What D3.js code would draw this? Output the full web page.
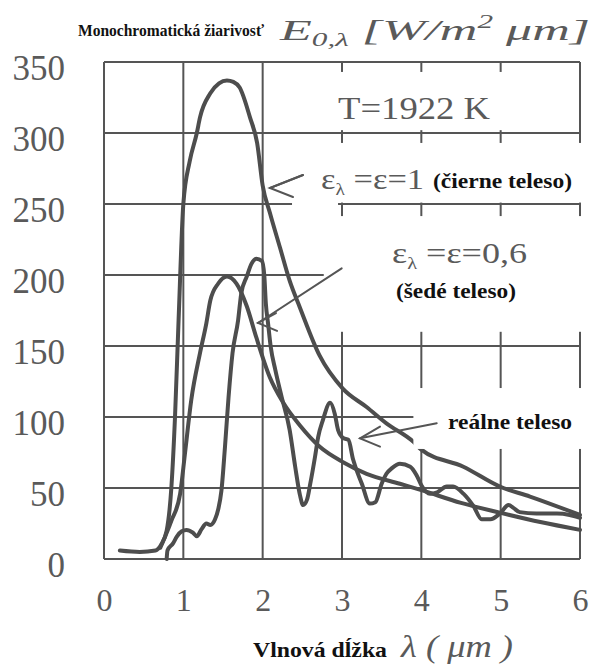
<!DOCTYPE html>
<html>
<head>
<meta charset="utf-8">
<script src="https://cdn.jsdelivr.net/npm/d3@7"></script>
<style>
  body { margin: 0; background: #fff; }
  svg { display: block; font-family: "Liberation Serif", "Times New Roman", serif; }
  .grid line { stroke: #555; stroke-width: 2; }
  .curve { fill: none; stroke: #4d4d4d; stroke-width: 4; stroke-linejoin: round; stroke-linecap: round; }
  .arrow { fill: none; stroke: #555; stroke-width: 2; stroke-linecap: round; }
  .note { fill: #5a5a5a; }
  .bold { font-weight: bold; fill: #111; }
  .axis text { fill: #5a5a5a; }
</style>
</head>
<body>
<div class="chart"></div>
<script>
// Values: wavelength (um) and E (W/m2 um, /1000)
var blackLambda = [0.20, 0.45, 0.65, 0.72, 0.79, 0.85, 0.895, 0.94, 1.00, 1.08, 1.17, 1.21, 1.34, 1.45, 1.55, 1.63, 1.71, 1.84, 1.93, 2.00, 2.09, 2.22, 2.34, 2.47, 2.72, 3.01, 3.31, 3.56, 3.90, 4.00, 4.53, 4.99, 5.37, 6.00];
var blackE = [6, 5, 6, 10, 20, 51, 100, 168, 250, 280, 300, 311, 328, 335, 337, 336, 332, 311, 293, 263, 244, 219, 196, 177, 143, 120, 107, 95.5, 82.5, 77, 65, 51, 44, 31];

var greyLambda = [0.71, 0.85, 0.96, 1.02, 1.10, 1.21, 1.29, 1.34, 1.44, 1.55, 1.67, 1.80, 1.92, 2.09, 2.26, 2.47, 2.72, 3.02, 3.31, 3.73, 4.00, 4.50, 5.00, 5.50, 6.00];
var greyE = [8, 27, 46, 74, 112, 145, 166, 182, 194, 199, 194, 178, 156, 128, 110, 94, 79, 68, 60, 53, 48.5, 39.5, 32.5, 26, 20.5];

var realLambda = [0.79, 0.80, 0.87, 0.92, 0.98, 1.04, 1.12, 1.17, 1.23, 1.29, 1.34, 1.40, 1.44, 1.48, 1.525, 1.57, 1.62, 1.69, 1.73, 1.80, 1.86, 1.92, 1.99, 2.02, 2.04, 2.07, 2.10, 2.16, 2.24, 2.34, 2.41, 2.47, 2.51, 2.56, 2.60, 2.66, 2.70, 2.76, 2.85, 2.91, 2.95, 3.02, 3.08, 3.14, 3.25, 3.35, 3.42, 3.50, 3.56, 3.63, 3.73, 3.86, 3.94, 4.00, 4.11, 4.20, 4.32, 4.40, 4.53, 4.66, 4.76, 4.87, 4.99, 5.10, 5.16, 5.24, 5.45, 5.71, 5.87, 6.00];
var realE = [0, 6, 11, 16, 19.5, 20.5, 18.5, 16, 21, 25, 24, 28, 35, 48, 79, 114, 145, 168, 187, 199, 208, 211.5, 210, 200, 180, 165, 150, 133, 114, 91, 65, 45, 38, 42, 53, 72, 86, 98, 110, 102, 91, 85, 84, 70, 53, 39, 40, 53, 60, 64, 67, 65, 59, 52, 46, 47, 51, 51, 46, 37, 28, 28, 32, 38, 36, 33, 32, 32, 31, 29];

var xTicks = [0, 1, 2, 3, 4, 5, 6];
var yTicks = [0, 50, 100, 150, 200, 250, 300, 350];

var svgWidth = 596, svgHeight = 670;

var svg = d3.select(".chart")
    .append("svg")
    .attr("width", svgWidth)
    .attr("height", svgHeight);

var x = d3.scaleLinear().domain([0, 6]).range([104, 580]);
var y = d3.scaleLinear().domain([0, 350]).range([559, 62]);

// grid (frame included)
var grid = svg.append("g").attr("class", "grid");
grid.selectAll("line.v").data(xTicks).enter().append("line")
    .attr("class", "v")
    .attr("x1", function(d) { return x(d); })
    .attr("x2", function(d) { return x(d); })
    .attr("y1", y(0))
    .attr("y2", y(350));
grid.selectAll("line.h").data(yTicks).enter().append("line")
    .attr("class", "h")
    .attr("x1", x(0))
    .attr("x2", x(6))
    .attr("y1", function(d) { return y(d); })
    .attr("y2", function(d) { return y(d); });

// white patches behind the labels, in data units [l0, l1, e0, e1]
function patch(p) {
    svg.append("rect")
        .attr("x", x(p[0]))
        .attr("y", y(p[3]))
        .attr("width", x(p[1]) - x(p[0]))
        .attr("height", y(p[2]) - y(p[3]))
        .attr("fill", "#fff");
}
patch([2.77, 5.95, 302, 343]);
patch([2.77, 6.1, 251, 293]);
patch([2.37, 2.95, 245, 253.5]);
patch([2.77, 6.1, 160, 241.5]);

// axes labels
var leftAxis = d3.axisLeft(y).tickValues(yTicks).tickSize(0).tickPadding(39);
var bottomAxis = d3.axisBottom(x).tickValues(xTicks).tickFormat(d3.format("d")).tickSize(0).tickPadding(29);

var gy = svg.append("g").attr("class", "axis").attr("transform", "translate(" + x(0) + ",0)").call(leftAxis);
gy.select(".domain").remove();
gy.attr("font-family", null);
gy.selectAll("text").attr("dy", "0.5em").style("font-size", "35px");

var gx = svg.append("g").attr("class", "axis").attr("transform", "translate(0," + y(0) + ")").call(bottomAxis);
gx.select(".domain").remove();
gx.attr("font-family", null);
gx.selectAll("text").style("font-size", "32px");

// curves
var line = d3.line()
    .x(function(d) { return x(d[0]); })
    .y(function(d) { return y(d[1]); })
    .curve(d3.curveMonotoneX);

function pairs(a, b) { return a.map(function(v, i) { return [v, b[i]]; }); }

svg.append("path").attr("class", "curve").attr("d", line(pairs(blackLambda, blackE)));
svg.append("path").attr("class", "curve").attr("d", line(pairs(greyLambda, greyE)));
svg.append("path").attr("class", "curve").attr("d", line(pairs(realLambda, realE)));

// patch behind "reálne teleso" cuts the black curve too
patch([3.9, 6.1, 77.5, 120.4]);

// arrows
var arrowLine = d3.line()
    .x(function(d) { return x(d[0]); })
    .y(function(d) { return y(d[1]); });

function arrow(tail, tip, w1, w2) {
    svg.append("path").attr("class", "arrow").attr("d", arrowLine([tail, tip]));
    svg.append("path").attr("class", "arrow").attr("d", arrowLine([w1, tip, w2]));
}
arrow([2.508, 270.4], [2.092, 261.3], [2.508, 270.4], [2.382, 254.9]);
arrow([2.996, 204.7], [1.941, 166.2], [2.168, 173.2], [2.181, 160.6]);
arrow([4.194, 95.6], [3.227, 85.0], [3.479, 93.2], [3.479, 79.1]);

// texts
function label(px, py, size, cls, str, len) {
    return svg.append("text")
        .attr("class", cls)
        .attr("x", px)
        .attr("y", py)
        .attr("textLength", len)
        .attr("lengthAdjust", "spacingAndGlyphs")
        .style("font-size", size + "px")
        .text(str);
}

function epsLabel(px, py, tail, len) {
    var t = svg.append("text").attr("class", "note")
        .attr("x", px).attr("y", py)
        .attr("textLength", len).attr("lengthAdjust", "spacingAndGlyphs")
        .style("font-size", "30px");
    t.append("tspan").text("ε");
    t.append("tspan").attr("dy", 6).style("font-size", "17px").text("λ");
    t.append("tspan").attr("dy", -6).text(" =ε=" + tail);
}

label(338, 119, 32, "note", "T=1922 K", 152);
epsLabel(321, 189, "1", 103);
label(433, 188, 21, "bold", "(čierne teleso)", 139);
epsLabel(392, 263, "0,6", 135);
label(396, 298, 21, "bold", "(šedé teleso)", 120);
label(448, 429, 21, "bold", "reálne teleso", 124);

// title
label(78, 36, 16, "bold", "Monochromatická žiarivosť", 186);
var t2 = svg.append("text").attr("class", "note")
    .attr("x", 280).attr("y", 40)
    .attr("textLength", 310).attr("lengthAdjust", "spacingAndGlyphs")
    .style("font-size", "30px").style("font-style", "italic");
t2.append("tspan").text("E");
t2.append("tspan").attr("dy", 6).style("font-size", "18px").text("0,λ");
t2.append("tspan").attr("dy", -6).text(" [W/m");
t2.append("tspan").attr("dy", -12).style("font-size", "18px").text("2");
t2.append("tspan").attr("dy", 12).text(" μm]");

// x title
label(253, 657, 21, "bold", "Vlnová dĺžka", 134);
svg.append("text").attr("class", "note")
    .attr("x", 401).attr("y", 657)
    .attr("textLength", 112).attr("lengthAdjust", "spacingAndGlyphs")
    .style("font-size", "31px").style("font-style", "italic")
    .text("λ ( μm )");
</script>
</body>
</html>
